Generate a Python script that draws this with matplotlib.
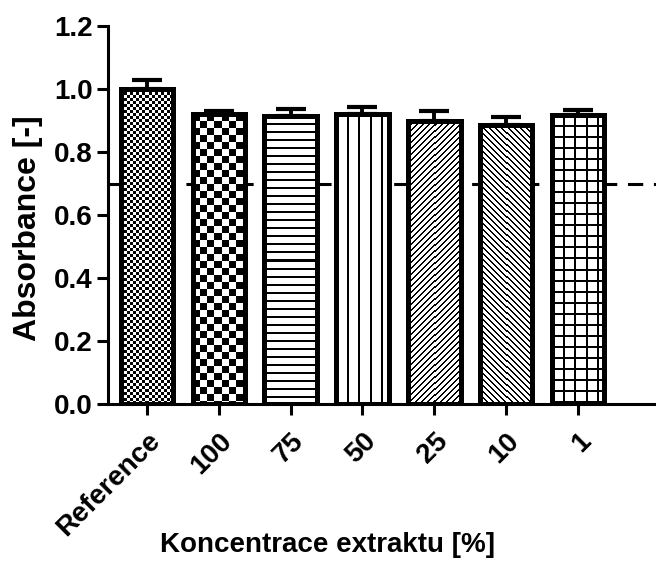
import numpy as np
import matplotlib.pyplot as plt

plt.rcParams['font.family'] = ['Liberation Sans', 'DejaVu Sans']
plt.rcParams['font.weight'] = 'bold'

categories = ['Reference', '100', '75', '50', '25', '10', '1']
values = [1.00, 0.92, 0.915, 0.92, 0.90, 0.885, 0.918]
errors = [0.03, 0.01, 0.022, 0.022, 0.03, 0.025, 0.015]
patterns = ['checker3', 'checker7', 'hlines', 'vlines', 'diag_up', 'diag_down', 'grid']
threshold = 0.7


def texture(kind, h, w):
    i, j = np.mgrid[0:h, 0:w]
    if kind.startswith('checker'):
        c = int(kind[7:])
        black = ((i // c + j // c) % 2) == 0
    elif kind == 'hlines':
        black = (i % 8) < 2
    elif kind == 'vlines':
        black = (j % 11) < 2
    elif kind == 'diag_up':
        black = ((i + j) % 6) < 2
    elif kind == 'diag_down':
        black = ((j - i) % 6) < 2
    else:
        black = ((i % 11) < 2) | ((j % 11) < 2)
    return np.where(black, 0.0, 1.0)


fig = plt.figure(figsize=(6.56, 5.79), dpi=100)
ax = fig.add_axes([108 / 656, 175 / 579, 548 / 656, 378 / 579])

x = np.arange(len(categories))
ax.axhline(threshold, color='black', lw=2.2, linestyle=(0, (5, 3.5)), zorder=1)
bars = ax.bar(x, values, width=0.73, color='white', edgecolor='none', zorder=2)
ax.errorbar(x, values, yerr=[np.zeros(len(values)), errors], fmt='none',
            ecolor='black', elinewidth=2.8, capsize=11, capthick=3, zorder=1.5)

ax.set_xlim(-0.543, 7.086)
ax.set_ylim(0, 1.2)
ax.set_yticks([0.0, 0.2, 0.4, 0.6, 0.8, 1.0, 1.2])
ax.set_yticklabels(['0.0', '0.2', '0.4', '0.6', '0.8', '1.0', '1.2'])
ax.set_xticks(x)
ax.set_xticklabels(categories, rotation=45, ha='right', va='top', rotation_mode='anchor')
for s in ['top', 'right']:
    ax.spines[s].set_visible(False)
for s in ['left', 'bottom']:
    ax.spines[s].set_linewidth(2.2)
ax.tick_params(axis='both', direction='out', length=8, width=2.2, labelsize=20)
ax.tick_params(axis='y', pad=3)
ax.tick_params(axis='x', pad=9)

fig.canvas.draw()
for bar, kind in zip(bars, patterns):
    x0, y0 = bar.get_x(), bar.get_y()
    x1, y1 = x0 + bar.get_width(), y0 + bar.get_height()
    (px0, py0), (px1, py1) = ax.transData.transform([(x0, y0), (x1, y1)])
    tex = texture(kind, int(round(py1 - py0)), int(round(px1 - px0)))
    im = ax.imshow(tex, cmap='gray', vmin=0, vmax=1, extent=(x0, x1, y0, y1),
                   interpolation='nearest', aspect='auto', zorder=2.5)
    im.set_clip_path(bar)
ax.bar(x, values, width=0.73, fill=False, edgecolor='black', linewidth=3.6, zorder=3)
ax.set_xlim(-0.543, 7.086)
ax.set_ylim(0, 1.2)

fig.text(28 / 656, (579 - 228) / 579, 'Absorbance [-]', rotation=90,
         ha='center', va='center', fontsize=23, fontweight='bold')
fig.text(327 / 656, (579 - 545) / 579, 'Koncentrace extraktu [%]',
         ha='center', va='center', fontsize=20, fontweight='bold')

fig.savefig('out.png', dpi=100)
